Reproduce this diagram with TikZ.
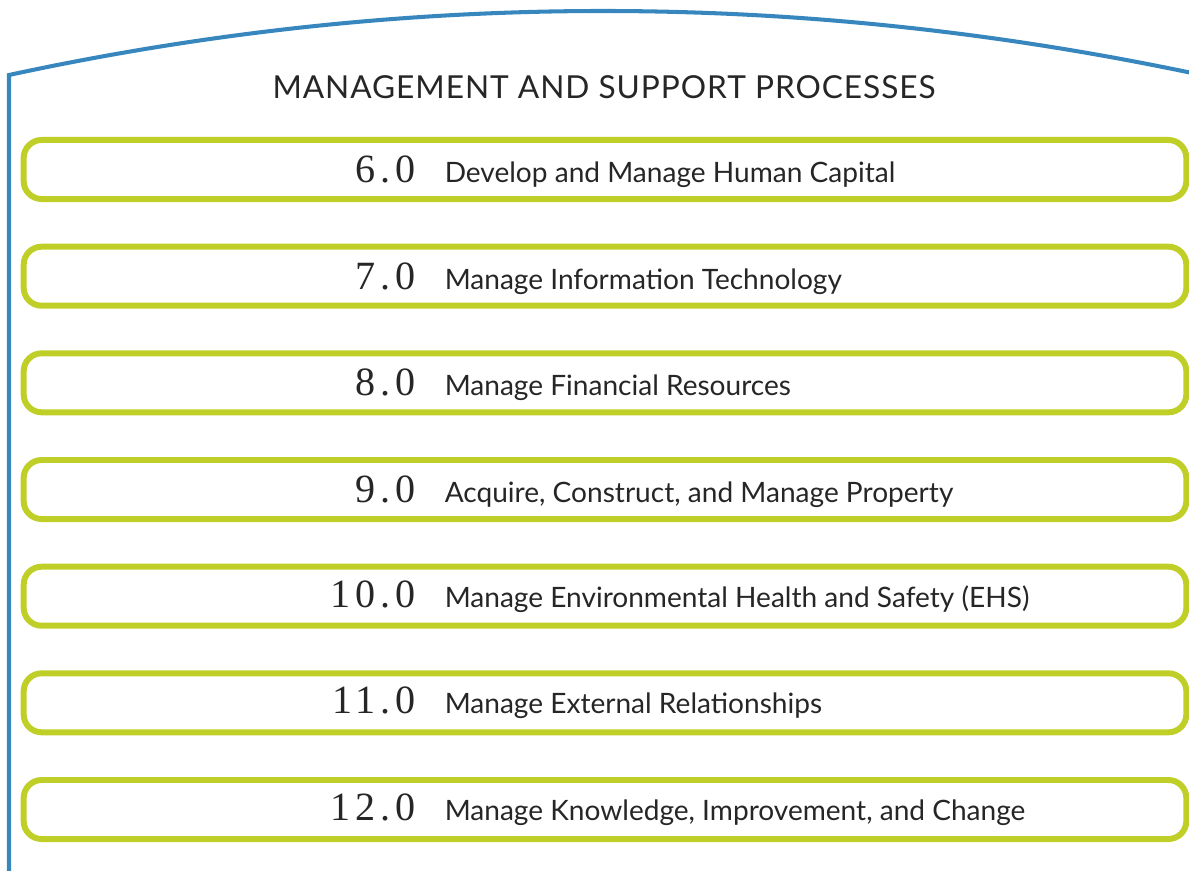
\documentclass[tikz,border=0pt]{standalone}
\usepackage{fontspec}
\setmainfont{Lato}
\newfontfamily\numfont[LetterSpace=12]{Liberation Serif}
\newfontfamily\headfont[LetterSpace=3]{Lato}
\usepackage{tikz}
\definecolor{apqcblue}{RGB}{55,135,190}
\definecolor{apqcgreen}{RGB}{192,207,40}
\tikzset{
every picture/.style={
line width=1pt
}}

\begin{document}
\begin{tikzpicture}[x=0.01cm, y=-0.01cm,
box/.style = {rectangle, draw=apqcgreen, line width=1.7pt, rounded corners=0.18cm,
  minimum width=11.62cm, minimum height=0.59cm, inner sep=0pt},
num/.style = {anchor=base east, inner sep=0pt, font=\numfont\fontsize{11.4}{12}\selectfont, text=black!85},
lbl/.style = {anchor=base west, inner sep=0pt, font=\fontsize{7.98}{9}\selectfont, text=black!85}]

\useasboundingbox (0,0) rectangle (1189,870);

% outer frame with the curved roof
\draw [apqcblue, line width=1.15pt] (9,875) -- (9,75)
.. controls (403,-10) and (796,-10) .. (1192,73);

\node [anchor=base, inner sep=0pt, font=\headfont\fontsize{9}{10}\selectfont, text=black!85] (title) at (604,99) {MANAGEMENT AND SUPPORT PROCESSES};

% process boxes: 106.67 apart
\node [box] (b6)  at (605,169.5) {};
\node [box] (b7)  at (605,276.2) {};
\node [box] (b8)  at (605,382.8) {};
\node [box] (b9)  at (605,489.5) {};
\node [box] (b10) at (605,596.2) {};
\node [box] (b11) at (605,702.8) {};
\node [box] (b12) at (605,809.5) {};

\node [num] (n6)  at (417,182.5) {6.0};
\node [num] (n7)  at (417,289.2) {7.0};
\node [num] (n8)  at (417,395.8) {8.0};
\node [num] (n9)  at (417,502.5) {9.0};
\node [num] (n10) at (417,607.2) {10.0};
\node [num] (n11) at (417,713.8) {11.0};
\node [num] (n12) at (417,820.5) {12.0};

\node [lbl] (t6)  at (443,182.5) {Develop and Manage Human Capital};
\node [lbl] (t7)  at (443,289.2) {Manage Information Technology};
\node [lbl] (t8)  at (443,395.8) {Manage Financial Resources};
\node [lbl] (t9)  at (443,502.5) {Acquire, Construct, and Manage Property};
\node [lbl] (t10) at (443,607.2) {Manage Environmental Health and Safety (EHS)};
\node [lbl] (t11) at (443,713.8) {Manage External Relationships};
\node [lbl] (t12) at (443,820.5) {Manage Knowledge, Improvement, and Change};

\end{tikzpicture}
\end{document}
